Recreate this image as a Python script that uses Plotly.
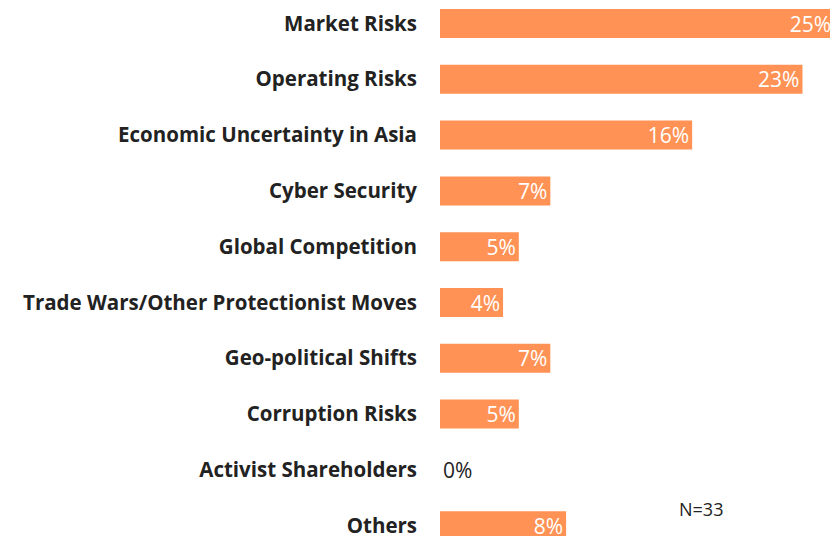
import plotly.graph_objects as go

categories = ["Market Risks", "Operating Risks", "Economic Uncertainty in Asia", "Cyber Security",
              "Global Competition", "Trade Wars/Other Protectionist Moves", "Geo-political Shifts",
              "Corruption Risks", "Activist Shareholders", "Others"]
values = [25, 23, 16, 7, 5, 4, 7, 5, 0, 8]
labels = [f"{v}%" for v in values]
note = "N=33"

positions = ["inside" if v > 0 else "outside" for v in values]

fig = go.Figure(go.Bar(
    x=values, y=categories, orientation="h",
    marker=dict(color="#FF9254", line=dict(width=0)),
    width=0.52,
    text=labels, textposition=positions, insidetextanchor="end",
    textangle=0,
    insidetextfont=dict(color="white", size=21, family="Open Sans"),
    outsidetextfont=dict(color="#222222", size=21, family="Open Sans"),
    cliponaxis=False,
))

fig.update_layout(
    width=838, height=536,
    margin=dict(l=432, r=12, t=0, b=0),
    plot_bgcolor="white", paper_bgcolor="white",
    showlegend=False,
    uniformtext=dict(minsize=21, mode="show"),
    xaxis=dict(range=[0, 25], visible=False, fixedrange=True),
    yaxis=dict(type="category", range=[9.328, -0.278], showgrid=False, zeroline=False,
               showline=False, ticks="", ticklabelstandoff=22,
               tickfont=dict(family="Open Sans", size=20.5, color="#222222", weight="bold")),
    annotations=[dict(text=note, x=0.662, y=0.065, xref="paper", yref="paper",
                      xanchor="center", yanchor="middle", showarrow=False,
                      font=dict(family="Open Sans", size=18, color="#222222"))],
)

fig.write_html("out.html")
